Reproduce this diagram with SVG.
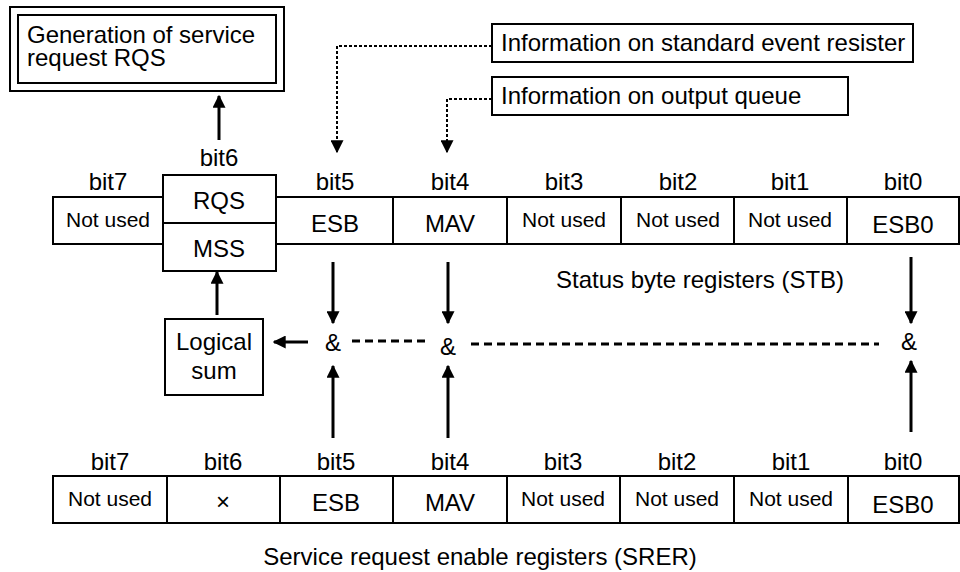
<svg xmlns="http://www.w3.org/2000/svg" width="960" height="572" viewBox="0 0 960 572">
<defs>
<style>
text{font-family:"Liberation Sans",Arial,sans-serif;fill:#000}
.l{font-size:24px;text-anchor:middle}
.s{font-size:21px;text-anchor:middle}
.b{fill:#fff;stroke:#000;stroke-width:2}
.ln{stroke:#000;stroke-width:2;fill:none}
.ar{stroke:#000;stroke-width:3;fill:none;marker-end:url(#ah)}
.dot{stroke:#000;stroke-width:2;fill:none;stroke-dasharray:3 2;marker-end:url(#ah)}
.dash{stroke:#000;stroke-width:3;fill:none;stroke-dasharray:8 5}
</style>
<marker id="ah" viewBox="0 0 10 10" refX="9" refY="5" markerUnits="userSpaceOnUse" markerWidth="13" markerHeight="13" orient="auto">
<path d="M0,0 L10,5 L0,10 z" fill="#000"/>
</marker>
</defs>
<rect width="960" height="572" fill="#fff"/>

<g id="rqs-gen">
<rect class="b" x="10" y="7" width="274" height="84"/>
<rect class="b" x="18" y="15" width="258" height="68"/>
<text x="27" y="43" font-size="24">Generation of service</text>
<text x="27" y="66" font-size="24">request RQS</text>
</g>

<g id="info-ser">
<rect class="b" x="492" y="24" width="421" height="38"/>
<text x="501" y="51" font-size="24">Information on standard event resister</text>
</g>
<g id="info-oq">
<rect class="b" x="492" y="77" width="356" height="38"/>
<text x="501" y="104" font-size="24">Information on output queue</text>
</g>

<g id="stb">
<rect class="b" x="53" y="197" width="906" height="47"/>
<line class="ln" x1="393" y1="197" x2="393" y2="244"/>
<line class="ln" x1="507" y1="197" x2="507" y2="244"/>
<line class="ln" x1="621" y1="197" x2="621" y2="244"/>
<line class="ln" x1="734" y1="197" x2="734" y2="244"/>
<line class="ln" x1="847" y1="197" x2="847" y2="244"/>
<rect class="b" x="163" y="175" width="113" height="96"/>
<line class="ln" x1="163" y1="223" x2="276" y2="223"/>
<text class="l" x="108" y="190">bit7</text>
<text class="l" x="219" y="166">bit6</text>
<text class="l" x="335" y="190">bit5</text>
<text class="l" x="450" y="190">bit4</text>
<text class="l" x="564" y="190">bit3</text>
<text class="l" x="678" y="190">bit2</text>
<text class="l" x="790" y="190">bit1</text>
<text class="l" x="903" y="190">bit0</text>
<text class="s" x="108" y="227">Not used</text>
<text class="l" x="219" y="209">RQS</text>
<text class="l" x="219" y="257">MSS</text>
<text class="l" x="335" y="232">ESB</text>
<text class="l" x="450" y="232">MAV</text>
<text class="s" x="564" y="227">Not used</text>
<text class="s" x="678" y="227">Not used</text>
<text class="s" x="790" y="227">Not used</text>
<text class="l" x="903" y="233">ESB0</text>
<text class="l" x="700" y="288">Status byte registers (STB)</text>
</g>

<g id="logical-sum">
<rect class="b" x="165" y="319" width="98" height="76"/>
<text class="l" x="214" y="350">Logical</text>
<text class="l" x="214" y="379">sum</text>
</g>

<g id="and5"><text class="l" x="333" y="351">&amp;</text></g>
<g id="and4"><text class="l" x="448" y="355">&amp;</text></g>
<g id="and0"><text class="l" x="909" y="350">&amp;</text></g>

<g id="srer">
<rect class="b" x="53" y="476" width="906" height="47"/>
<line class="ln" x1="167" y1="476" x2="167" y2="523"/>
<line class="ln" x1="280" y1="476" x2="280" y2="523"/>
<line class="ln" x1="393" y1="476" x2="393" y2="523"/>
<line class="ln" x1="507" y1="476" x2="507" y2="523"/>
<line class="ln" x1="620" y1="476" x2="620" y2="523"/>
<line class="ln" x1="734" y1="476" x2="734" y2="523"/>
<line class="ln" x1="848" y1="476" x2="848" y2="523"/>
<text class="l" x="110" y="470">bit7</text>
<text class="l" x="223" y="470">bit6</text>
<text class="l" x="336" y="470">bit5</text>
<text class="l" x="450" y="470">bit4</text>
<text class="l" x="563" y="470">bit3</text>
<text class="l" x="677" y="470">bit2</text>
<text class="l" x="791" y="470">bit1</text>
<text class="l" x="903" y="470">bit0</text>
<text class="s" x="110" y="506">Not used</text>
<text class="l" x="223" y="510">×</text>
<text class="l" x="336" y="511">ESB</text>
<text class="l" x="450" y="511">MAV</text>
<text class="s" x="563" y="506">Not used</text>
<text class="s" x="677" y="506">Not used</text>
<text class="s" x="791" y="506">Not used</text>
<text class="l" x="903" y="513">ESB0</text>
<text class="l" x="480" y="565">Service request enable registers (SRER)</text>
</g>

<g id="connectors">
<line class="ar" x1="219" y1="140" x2="219" y2="96"/>
<path class="dot" d="M492,46 H337 V152"/>
<path class="dot" d="M492,99 H447 V152"/>
<line class="ar" x1="333" y1="262" x2="333" y2="323"/>
<line class="ar" x1="448" y1="262" x2="448" y2="323"/>
<line class="ar" x1="911" y1="257" x2="911" y2="323"/>
<line class="ar" x1="333" y1="438" x2="333" y2="366"/>
<line class="ar" x1="448" y1="438" x2="448" y2="366"/>
<line class="ar" x1="911" y1="432" x2="911" y2="361"/>
<line class="ar" x1="217" y1="315" x2="217" y2="272"/>
<line class="ar" x1="308" y1="342" x2="274" y2="342"/>
<line class="dash" x1="352" y1="341" x2="428" y2="341"/>
<line class="dash" x1="471" y1="344" x2="879" y2="344"/>
</g>
</svg>
